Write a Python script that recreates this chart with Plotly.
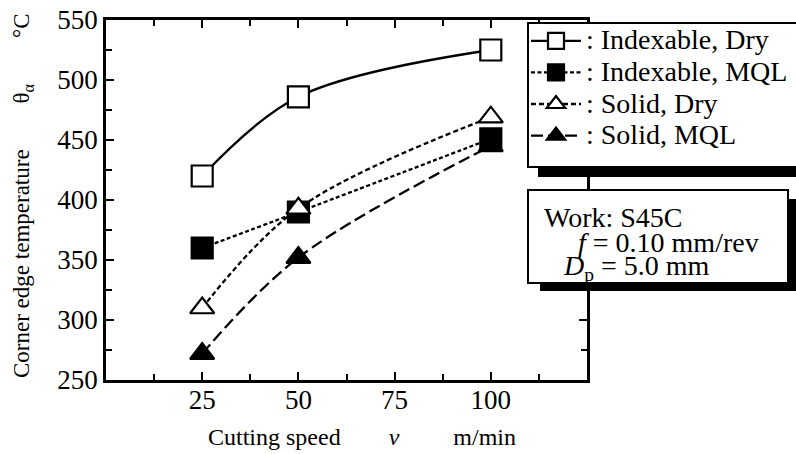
import plotly.graph_objects as go

speed = [25, 50, 100]
indexable_dry = [420, 486, 525]
indexable_mql = [360, 390, 451]
solid_dry = [310, 393, 469]
solid_mql = [272, 352, 445]

series_names = [": Indexable, Dry", ": Indexable, MQL", ": Solid, Dry", ": Solid, MQL"]
series_values = [indexable_dry, indexable_mql, solid_dry, solid_mql]
symbols = ["square", "square", "triangle-up", "triangle-up"]
fills = ["white", "black", "white", "black"]
dashes = ["solid", "4px,2.5px", "5px,3px", "12px,5px"]

x_tickvals = [25, 50, 75, 100]
y_tickvals = [250, 300, 350, 400, 450, 500, 550]

FONT = "Liberation Serif, Times New Roman, DejaVu Serif, serif"

# plot area in pixels
L, R, T, B = 106, 587, 20, 380
W, H = R - L, B - T


def px(x):
    return (x - L) / W


def py(y):
    return (B - y) / H


fig = go.Figure()
for name, vals, sym, fill, dash in zip(series_names, series_values, symbols, fills, dashes):
    fig.add_trace(go.Scatter(
        x=speed, y=vals, name='<span style="font-size:28px">' + name + '</span>',
        mode="lines+markers",
        line=dict(color="black", width=2.3, dash=dash, shape="spline", smoothing=1),
        marker=dict(symbol=sym, size=21, color=fill,
                    line=dict(color="black", width=2.2)),
    ))

axis_common = dict(
    showline=True, linecolor="black", linewidth=2.5, mirror="allticks",
    ticks="inside", ticklen=8, tickwidth=2, tickcolor="black",
    showgrid=False, zeroline=False,
    tickfont=dict(family=FONT, size=27, color="black"),
)

fig.update_xaxes(range=[0, 125], tickmode="array", tickvals=x_tickvals,
                 ticklabelstandoff=-6,
                 minor=dict(dtick=12.5, tick0=0, ticks="inside", ticklen=6, tickwidth=1.5, tickcolor="black"),
                 **axis_common)
fig.update_yaxes(range=[250, 550], tickmode="array", tickvals=y_tickvals,
                 minor=dict(dtick=25, tick0=250, ticks="inside", ticklen=6, tickwidth=1.5, tickcolor="black"),
                 **axis_common)

nb = "\u00a0"
shapes = [
    # legend shadow and box
    dict(type="rect", xref="paper", yref="paper", x0=px(538), x1=px(810), y0=py(177), y1=py(31),
         fillcolor="black", line=dict(width=0), layer="above"),
    dict(type="rect", xref="paper", yref="paper", x0=px(528), x1=px(805), y0=py(167), y1=py(23),
         fillcolor="white", line=dict(color="black", width=2), layer="above"),
    # condition box shadow and box
    dict(type="rect", xref="paper", yref="paper", x0=px(540), x1=px(797), y0=py(291), y1=py(199),
         fillcolor="black", line=dict(width=0), layer="above"),
    dict(type="rect", xref="paper", yref="paper", x0=px(528), x1=px(788), y0=py(283), y1=py(190),
         fillcolor="white", line=dict(color="black", width=2), layer="above"),
]

annotations = [
    dict(text="Corner edge temperature" + nb * 8 + "θ<sub>α</sub>" + nb * 8 + "°C",
         xref="paper", yref="paper", x=px(23), y=py(196), textangle=-90,
         showarrow=False, font=dict(family=FONT, size=23, color="black"),
         xanchor="center", yanchor="middle"),
    dict(text="Cutting speed" + nb * 8 + "<i>v</i>" + nb * 9 + "m/min",
         xref="paper", yref="paper", x=px(362), y=py(437),
         showarrow=False, font=dict(family=FONT, size=24, color="black"),
         xanchor="center", yanchor="middle"),
    dict(text="Work: S45C", xref="paper", yref="paper", x=px(542), y=py(217),
         showarrow=False, font=dict(family=FONT, size=28, color="black"),
         xanchor="left", yanchor="middle"),
    dict(text="<i>f</i> = 0.10 mm/rev", xref="paper", yref="paper", x=px(576), y=py(242),
         showarrow=False, font=dict(family=FONT, size=28, color="black"),
         xanchor="left", yanchor="middle"),
    dict(text="<i>D</i><sub>p</sub> = 5.0 mm", xref="paper", yref="paper", x=px(561), y=py(267),
         showarrow=False, font=dict(family=FONT, size=28, color="black"),
         xanchor="left", yanchor="middle"),
]

fig.update_layout(
    width=796, height=454,
    margin=dict(l=L, r=796 - R, t=T, b=454 - B, autoexpand=False),
    paper_bgcolor="white", plot_bgcolor="white",
    showlegend=True,
    legend=dict(x=px(526), y=py(20), xanchor="left", yanchor="top",
                bgcolor="rgba(0,0,0,0)", borderwidth=0,
                font=dict(family=FONT, size=22, color="black"),
                itemwidth=50, tracegroupgap=0),
    shapes=shapes, annotations=annotations,
)

fig.write_html("out.html")
